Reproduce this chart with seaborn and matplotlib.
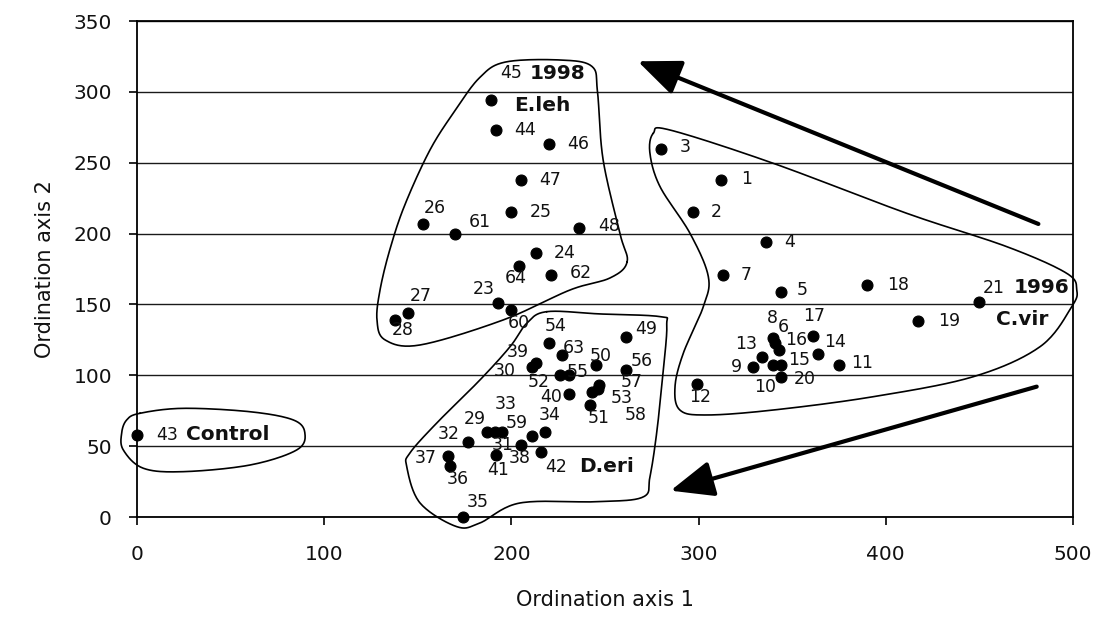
import numpy as np
import pandas as pd
import matplotlib
matplotlib.use("Agg")
import matplotlib.pyplot as plt
import seaborn as sns

# ---------------- data ----------------
sample_ids = [1, 2, 3, 4, 5, 6, 7, 8, 9, 10, 11, 12, 13, 14, 15, 16, 17, 18, 19, 20, 21,
              23, 24, 25, 26, 27, 28, 29, 30, 31, 32, 33, 34, 35, 36, 37, 38, 39, 40,
              41, 42, 43, 44, 45, 46, 47, 48, 49, 50, 51, 52, 53, 54, 55, 56, 57, 58,
              59, 60, 61, 62, 63, 64]
axis1 = [312, 297, 280, 336, 344, 341, 313, 340, 329, 340, 375, 299, 334, 364, 344, 343, 361, 390, 417, 344, 450,
         193, 213, 200, 153, 145, 138, 187, 211, 205, 177, 191, 218, 174, 167, 166, 211, 213, 231,
         192, 216, 0, 192, 189, 220, 205, 236, 261, 245, 242, 226, 246, 220, 231, 261, 247, 243,
         195, 200, 170, 221, 227, 204]
axis2 = [238, 215, 260, 194, 159, 123, 171, 126, 106, 107, 107, 94, 113, 115, 107, 118, 128, 164, 138, 99, 152,
         151, 186, 215, 207, 144, 139, 60, 106, 51, 53, 60, 60, 0, 36, 43, 57, 109, 87,
         44, 46, 58, 273, 294, 263, 238, 204, 127, 107, 79, 100, 90, 123, 100, 104, 93, 88,
         60, 146, 200, 171, 114, 177]

x_ticks = [0, 100, 200, 300, 400, 500]
y_ticks = [0, 50, 100, 150, 200, 250, 300, 350]
x_title = "Ordination axis 1"
y_title = "Ordination axis 2"

# group annotations: (text, anchor sample)
group_labels = [("1998", 45), ("E.leh", 45), ("D.eri", 42), ("1996", 21), ("C.vir", 21), ("Control", 43)]

# ---------------- layout / style (positions, not data) ----------------
# label offsets in pixels (dx, dy, horizontal alignment)
L, C = "left", "center"
label_off = {
    1: (20, 1, L), 2: (18, 0, L), 3: (19, 2, L), 4: (18, 0, L), 5: (16, 2, L), 7: (18, 0, L),
    11: (12, 2, L), 18: (20, 0, L), 19: (20, 0, L), 21: (3, 14, L), 24: (18, 0, L), 25: (18, 0, L),
    43: (19, 0, L), 44: (18, 0, L), 46: (18, 0, L), 47: (18, 0, L), 48: (19, 2, L), 49: (10, 8, L),
    56: (5, 9, L), 57: (21, 3, L), 53: (13, -9, L), 61: (14, 12, L), 62: (19, 2, L), 63: (1, 7, L),
    6: (8, 16, C), 8: (-1, 20, C), 9: (-16, 0, C), 10: (-8, -22, C), 12: (3, -13, C),
    13: (-16, 13, C), 14: (17, 12, C), 15: (18, 5, C), 16: (17, 10, C), 17: (1, 20, C),
    20: (24, -2, C), 23: (-15, 14, C), 26: (11, 16, C), 27: (12, 17, C), 28: (7, -10, C),
    29: (-12, 13, C), 30: (-27, -4, C), 31: (-18, 0, C), 32: (-20, 8, C), 33: (11, 28, C),
    34: (5, 17, C), 35: (15, 15, C), 36: (8, -13, C), 37: (-22, -2, C), 38: (-12, -22, C),
    39: (-18, 11, C), 40: (-18, -3, C), 41: (2, -15, C), 42: (15, -15, C), 45: (20, 27, C),
    50: (5, 9, C), 51: (9, -13, C), 52: (-21, -7, C), 54: (7, 17, C), 55: (8, 3, C),
    58: (44, -23, C), 59: (15, 9, C), 60: (7, -13, C), 64: (-3, -12, C),
}
group_off = {"1998": (67, 27, C), "E.leh": (52, -5, C), "D.eri": (65, -15, C),
             "1996": (34, 14, L), "C.vir": (17, -18, L), "Control": (49, 0, L)}

# hand-drawn group outlines (data units)
outline_eleh = [(261.8, 180), (252.7, 168.7), (231.3, 160.2), (195.5, 139), (151.2, 121.4),
                (132.5, 125), (128.2, 139), (129.8, 160), (135, 188.4), (143, 220),
                (156.5, 259), (170, 287), (183, 310), (196.6, 321), (226, 322.5),
                (243, 318), (246, 300), (249, 252), (258, 200)]
outline_deri = [(218.9, 144.9), (247.3, 143.3), (279.4, 141.4), (283, 135.5), (281, 101.6),
                (277.6, 59.3), (274, 28.4), (270.3, 14.1), (245.6, 10.8), (204.6, 9.9),
                (183.2, -4.2), (170.8, -6.8), (151.2, 9.9), (144.1, 35.5), (145.8, 45.2),
                (160.1, 66.3), (183.2, 96.7), (199.3, 120.2), (208.2, 136.7)]
outline_cvir = [(275.8, 270.8), (284.7, 273.1), (339.9, 249.6), (411.2, 214.3), (464.6, 190.8),
                (496.6, 172), (502, 160.2), (499.3, 148.4), (482.4, 120.2), (446.7, 99),
                (393.3, 84.9), (339.9, 75.5), (304.3, 72), (290, 75.5), (287.4, 92),
                (291.8, 115.5), (302.5, 148.4), (305.2, 169.6), (295.4, 200.2), (279.4, 233.1),
                (274, 256.7)]
outline_ctrl = [(1.6, 73.2), (24.7, 76.7), (60.4, 74.3), (83.5, 68.5), (89.7, 59.1),
                (85.3, 47.3), (60.4, 36.7), (24.7, 32), (3.4, 34.4), (-7.3, 47.3),
                (-8.2, 59.1), (-5.5, 68.5)]

arrows = [((481.5, 206.8), (267.5, 321.6)), ((480.6, 92.0), (285.0, 18.6))]


def smooth_closed(pts, n=20):
    p = np.asarray(pts, float)
    m = len(p)
    out = []
    t = np.linspace(0, 1, n, endpoint=False)[:, None]
    for i in range(m):
        p0, p1, p2, p3 = p[(i - 1) % m], p[i], p[(i + 1) % m], p[(i + 2) % m]
        seg = 0.5 * ((2 * p1) + (-p0 + p2) * t + (2 * p0 - 5 * p1 + 4 * p2 - p3) * t ** 2
                     + (-p0 + 3 * p1 - 3 * p2 + p3) * t ** 3)
        out.append(seg)
    out = np.vstack(out)
    return np.vstack([out, out[:1]])


# ---------------- plot ----------------
sns.set_style("white")
plt.rcParams["font.family"] = ["DejaVu Sans"]

df = pd.DataFrame({"id": sample_ids, "axis1": axis1, "axis2": axis2})

fig = plt.figure(figsize=(11.02, 6.39), dpi=100)
ax = fig.add_axes([0.1243, 0.1909, 0.8494, 0.7762])

ax.set_xlim(0, 500)
ax.set_ylim(0, 350)
ax.set_xticks(x_ticks)
ax.set_yticks(y_ticks)
ax.yaxis.grid(True, color="#1a1a1a", lw=1.0)
ax.xaxis.grid(False)
ax.set_axisbelow(True)

sns.scatterplot(data=df, x="axis1", y="axis2", color="black", s=62, edgecolor="black",
                linewidth=0.8, ax=ax, zorder=4, clip_on=False, legend=False)

pos = {i: (x, y) for i, x, y in zip(sample_ids, axis1, axis2)}
for i in sample_ids:
    dx, dy, ha = label_off[i]
    ax.annotate(str(i), pos[i], xytext=(dx, dy), textcoords="offset pixels",
                ha=ha, va="center", fontsize=12.5, color="#111111", zorder=5,
                annotation_clip=False)

for txt, anchor in group_labels:
    dx, dy, ha = group_off[txt]
    ax.annotate(txt, pos[anchor], xytext=(dx, dy), textcoords="offset pixels",
                ha=ha, va="center", fontsize=14.5, fontweight="bold", color="#111111",
                zorder=5, annotation_clip=False)

for outline in (outline_eleh, outline_deri, outline_cvir, outline_ctrl):
    c = smooth_closed(outline)
    ax.plot(c[:, 0], c[:, 1], color="black", lw=1.2, zorder=3, clip_on=False)

for tail, head in arrows:
    ax.annotate("", xy=head, xytext=tail,
                arrowprops=dict(arrowstyle="-|>,head_length=1.2,head_width=0.5",
                                lw=3.0, color="black", mutation_scale=22,
                                shrinkA=0, shrinkB=0),
                zorder=5)

for side in ("left", "right", "top", "bottom"):
    ax.spines[side].set_visible(True)
    ax.spines[side].set_color("black")
    ax.spines[side].set_linewidth(1.3)

ax.tick_params(axis="both", which="major", direction="out", length=6, width=1.2,
               color="black", labelsize=14.5, labelcolor="#111111",
               bottom=True, left=True, top=False, right=False)
ax.tick_params(axis="x", pad=14)
ax.tick_params(axis="y", pad=12)

ax.set_xlabel(x_title, fontsize=15, color="#111111")
ax.set_ylabel(y_title, fontsize=15, color="#111111")
ax.xaxis.set_label_coords(0.5, -0.167)
ax.yaxis.set_label_coords(-0.098, 0.5)
ax.xaxis.label.set_va("center")
ax.yaxis.label.set_va("center")

fig.savefig("out.png", dpi=100)
